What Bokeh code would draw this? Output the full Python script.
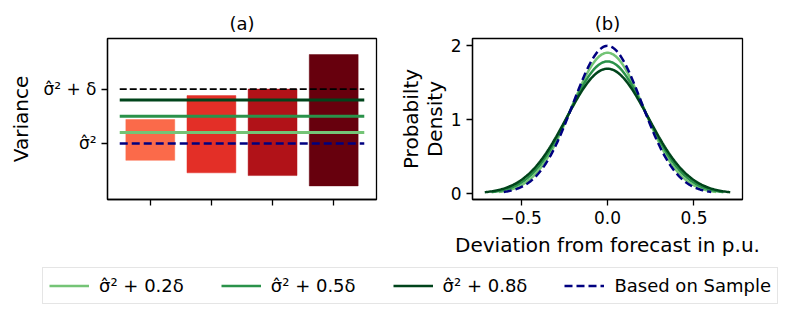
import numpy as np
from bokeh.plotting import figure
from bokeh.layouts import column, row
from bokeh.models import FixedTicker, Range1d, Legend, LegendItem, ColumnDataSource
from bokeh.embed import file_html
from bokeh.resources import INLINE

# ---------------- data ----------------
# panel (a): variance intervals per scenario
bar_positions = [0, 1, 2, 3]
bar_bottoms = [0.0338, 0.0292, 0.0282, 0.0244]
bar_tops = [0.0488, 0.0576, 0.0600, 0.0727]
bar_colors = ["#fb6a4a", "#e32f27", "#b11218", "#67000d"]

sample_var = 0.04      # sigma-hat^2
delta = 0.02           # delta
fractions = [0.2, 0.5, 0.8]
green_colors = ["#74c476", "#2a924a", "#00441b"]
sample_color = "#000080"

a_ytick_values = [0.04, 0.06]
a_ytick_labels = ["σ̂²", "σ̂² + δ"]

# panel (b)
b_xticks = [-0.5, 0.0, 0.5]
b_xtick_labels = ["−0.5", "0.0", "0.5"]
b_yticks = [0, 1, 2]

legend_labels = ["σ̂² + 0.2δ", "σ̂² + 0.5δ", "σ̂² + 0.8δ", "Based on Sample"]

FONT = "DejaVu Sans"
TICK_FS = "17px"
LABEL_FS = "20px"


def style(p):
    p.toolbar_location = None
    p.outline_line_color = "black"
    p.outline_line_width = 1.3
    p.grid.visible = False
    p.background_fill_color = "white"
    p.border_fill_color = "white"
    for ax in p.axis:
        ax.axis_line_color = "black"
        ax.axis_line_width = 1.3
        ax.major_tick_line_color = "black"
        ax.major_tick_line_width = 1.3
        ax.major_tick_out = 6
        ax.major_tick_in = 0
        ax.minor_tick_line_color = None
        ax.major_label_text_font = FONT
        ax.major_label_text_font_size = TICK_FS
        ax.major_label_text_color = "black"
        ax.axis_label_text_font = FONT
        ax.axis_label_text_font_size = LABEL_FS
        ax.axis_label_text_font_style = "normal"
        ax.axis_label_text_color = "black"
    p.title.text_font = FONT
    p.title.text_font_size = "18px"
    p.title.text_font_style = "normal"
    p.title.text_color = "black"
    p.title.align = "center"


# ---------------- panel (a) ----------------
p1 = figure(width=390, height=260, output_backend="svg", toolbar_location=None,
            x_range=Range1d(-0.7, 3.7), y_range=Range1d(0.0194, 0.0786),
            min_border_left=107, min_border_right=14, min_border_top=38,
            min_border_bottom=61, title="(a)")
style(p1)

src_a = ColumnDataSource(dict(x=bar_positions, bottom=bar_bottoms, top=bar_tops, color=bar_colors))
p1.vbar(x="x", bottom="bottom", top="top", width=0.8, fill_color="color",
        line_color="color", line_alpha=0.45, line_width=1, source=src_a)

x_left = bar_positions[0] - 0.5
x_right = bar_positions[-1] + 0.5
p1.line([x_left, x_right], [sample_var + delta] * 2, line_color="black",
        line_width=1.8, line_dash="7 3")
for f, c in zip(fractions, green_colors):
    p1.line([x_left, x_right], [sample_var + f * delta] * 2, line_color=c, line_width=3)
p1.line([x_left, x_right], [sample_var] * 2, line_color=sample_color,
        line_width=2.5, line_dash="8 4")

p1.yaxis.ticker = FixedTicker(ticks=a_ytick_values)
p1.yaxis.major_label_overrides = {v: l for v, l in zip(a_ytick_values, a_ytick_labels)}
p1.yaxis.axis_label = "Variance"
p1.yaxis.axis_label_standoff = 7
p1.xaxis.ticker = FixedTicker(ticks=bar_positions)
p1.xaxis.major_label_overrides = {v: "" for v in bar_positions}

# ---------------- panel (b) ----------------
p2 = figure(width=392, height=260, output_backend="svg", toolbar_location=None,
            x_range=Range1d(-0.781, 0.781), y_range=Range1d(-0.08, 2.094),
            min_border_left=82, min_border_right=40, min_border_top=38,
            min_border_bottom=61, title="(b)")
style(p2)


def normal_curve(var):
    s = np.sqrt(var)
    xs = np.linspace(-3 * s, 3 * s, 200)
    ys = np.exp(-xs ** 2 / (2 * var)) / np.sqrt(2 * np.pi * var)
    return xs, ys


for f, c in zip(fractions, green_colors):
    xs, ys = normal_curve(sample_var + f * delta)
    p2.line(xs, ys, line_color=c, line_width=2.5)
xs, ys = normal_curve(sample_var)
p2.line(xs, ys, line_color=sample_color, line_width=2.5, line_dash="8 4")

p2.xaxis.ticker = FixedTicker(ticks=b_xticks)
p2.xaxis.major_label_overrides = {v: l for v, l in zip(b_xticks, b_xtick_labels)}
p2.yaxis.ticker = FixedTicker(ticks=b_yticks)
p2.xaxis.axis_label = "Deviation from forecast in p.u."
p2.yaxis.axis_label = "Probabilty\nDensity"
p2.xaxis.axis_label_standoff = 6
p2.yaxis.axis_label_standoff = 1
p2.yaxis.axis_label_text_line_height = 1.0

# ---------------- legend strip ----------------
p3 = figure(width=782, height=52, output_backend="svg", toolbar_location=None,
            x_range=Range1d(0, 1), y_range=Range1d(0, 1),
            x_axis_location=None, y_axis_location=None, min_border=0)
p3.outline_line_color = None
p3.grid.visible = False

# legend proxies: placed outside the visible range so only the legend shows them
proxy_x = [5, 6]
proxy_y = [5, 5]
items = []
for lab, c in zip(legend_labels[:3], green_colors):
    r = p3.line(x=proxy_x, y=proxy_y, line_color=c, line_width=2.5)
    items.append(LegendItem(label=lab, renderers=[r]))
r = p3.line(x=proxy_x, y=proxy_y, line_color=sample_color, line_width=2.5, line_dash="8 4")
items.append(LegendItem(label=legend_labels[3], renderers=[r]))

leg = Legend(items=items, orientation="horizontal", location=(42, 8),
             glyph_width=40, glyph_height=23, label_standoff=10, spacing=37,
             padding=6, margin=0, label_height=18,
             label_text_font=FONT, label_text_font_size="18px",
             label_text_color="black",
             border_line_color="#cccccc", border_line_width=1,
             background_fill_color="white")
p3.add_layout(leg)

layout = column(row(p1, p2), p3)
open("out.html", "w").write(file_html(layout, INLINE))
